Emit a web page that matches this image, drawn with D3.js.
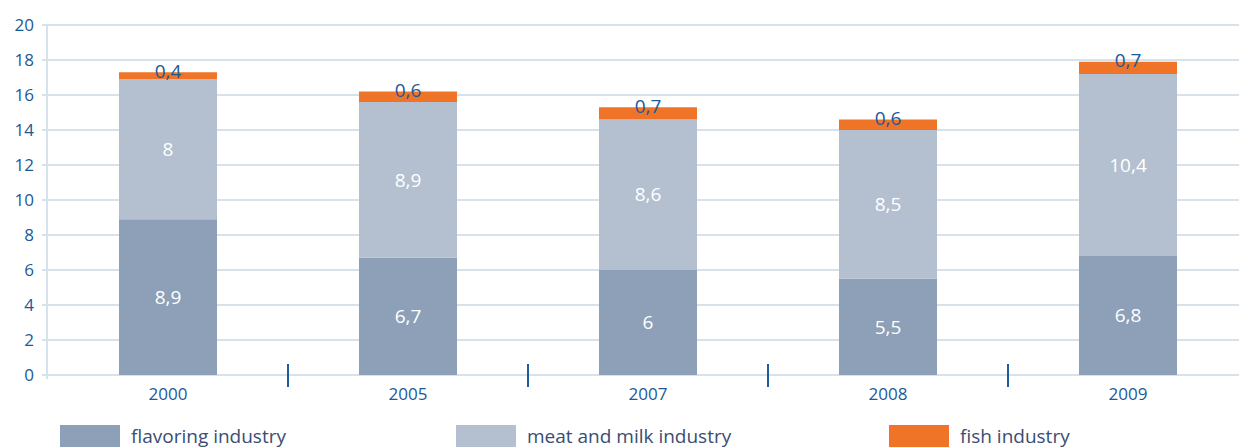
<!DOCTYPE html>
<html>
<head>
<meta charset="utf-8">
<script src="https://cdn.jsdelivr.net/npm/d3@7"></script>
<style>
  html, body { margin: 0; padding: 0; background: #fff; }
  svg { display: block; }
  text { font-family: "Open Sans", "Noto Sans", sans-serif; }
</style>
</head>
<body>
<svg id="chart" width="1239" height="448"></svg>
<script>
const categories = ["2000", "2005", "2007", "2008", "2009"];
const flavoring = [8.9, 6.7, 6, 5.5, 6.8];
const meatMilk = [8, 8.9, 8.6, 8.5, 10.4];
const fish = [0.4, 0.6, 0.7, 0.6, 0.7];
const seriesNames = ["flavoring industry", "meat and milk industry", "fish industry"];
const yTicks = [0, 2, 4, 6, 8, 10, 12, 14, 16, 18, 20];

const colors = ["#8e9fb8", "#b4c0d0", "#f07427"];
const axisColor = "#1a5a96";
const gridColor = "#d6e2ec";
const legendTextColor = "#3a4d72";

const svg = d3.select("#chart");
const W = 1239;

const x = d3.scaleBand().domain(categories).range([48, 1248]).padding(0);
const y = d3.scaleLinear().domain([0, 20]).range([375, 25]);
const barW = 98;

const rows = categories.map((c, i) => ({ cat: c, flavoring: flavoring[i], meat: meatMilk[i], fish: fish[i] }));
const keys = ["flavoring", "meat", "fish"];
const stacked = d3.stack().keys(keys)(rows);

// gridlines
const grid = svg.append("g");
grid.selectAll("line").data(yTicks).join("line")
  .attr("x1", 42).attr("x2", W)
  .attr("y1", d => y(d)).attr("y2", d => y(d))
  .attr("stroke", gridColor).attr("stroke-width", 2);
// vertical axis line
svg.append("line").attr("x1", 47).attr("x2", 47)
  .attr("y1", y(20)).attr("y2", y(0) + 4)
  .attr("stroke", gridColor).attr("stroke-width", 2);

// y tick labels
svg.append("g").selectAll("text").data(yTicks).join("text")
  .attr("x", 34).attr("y", d => y(d)).attr("dy", "0.35em")
  .attr("text-anchor", "end").attr("fill", axisColor)
  .attr("font-size", 17).text(d => d);

// bars
const cx = c => x(c) + x.bandwidth() / 2;
stacked.forEach((s, si) => {
  svg.append("g").selectAll("rect").data(s).join("rect")
    .attr("x", d => cx(d.data.cat) - barW / 2)
    .attr("width", barW)
    .attr("y", d => y(d[1]))
    .attr("height", d => y(d[0]) - y(d[1]))
    .attr("fill", colors[si]);
});

const fmt = v => String(v).replace(".", ",");

// inner labels
[0, 1].forEach(si => {
  svg.append("g").selectAll("text").data(stacked[si]).join("text")
    .attr("x", d => cx(d.data.cat))
    .attr("y", d => (y(d[0]) + y(d[1])) / 2)
    .attr("dy", "0.35em")
    .attr("text-anchor", "middle").attr("fill", "#ffffff")
    .attr("font-size", 19)
    .text(d => fmt(d.data[keys[si]]));
});
// fish labels
svg.append("g").selectAll("text").data(stacked[2]).join("text")
  .attr("x", d => cx(d.data.cat))
  .attr("y", d => y(d[1]) + 5.5)
  .attr("text-anchor", "middle").attr("fill", axisColor)
  .attr("font-size", 19)
  .text(d => fmt(d.data.fish));

// category labels
svg.append("g").selectAll("text").data(categories).join("text")
  .attr("x", d => cx(d)).attr("y", 400)
  .attr("text-anchor", "middle").attr("fill", axisColor)
  .attr("font-size", 17).text(d => d);

// separator ticks
svg.append("g").selectAll("line").data(categories.slice(1)).join("line")
  .attr("x1", d => x(d)).attr("x2", d => x(d))
  .attr("y1", 364).attr("y2", 387)
  .attr("stroke", "#1f5b96").attr("stroke-width", 2);

// legend
const legendX = [60, 456, 889];
const lg = svg.append("g");
seriesNames.forEach((n, i) => {
  lg.append("rect").attr("x", legendX[i]).attr("y", 425)
    .attr("width", 60).attr("height", 22).attr("fill", colors[i]);
  lg.append("text").attr("x", legendX[i] + 71).attr("y", 443)
    .attr("fill", legendTextColor).attr("font-size", 19).text(n);
});
</script>
</body>
</html>
